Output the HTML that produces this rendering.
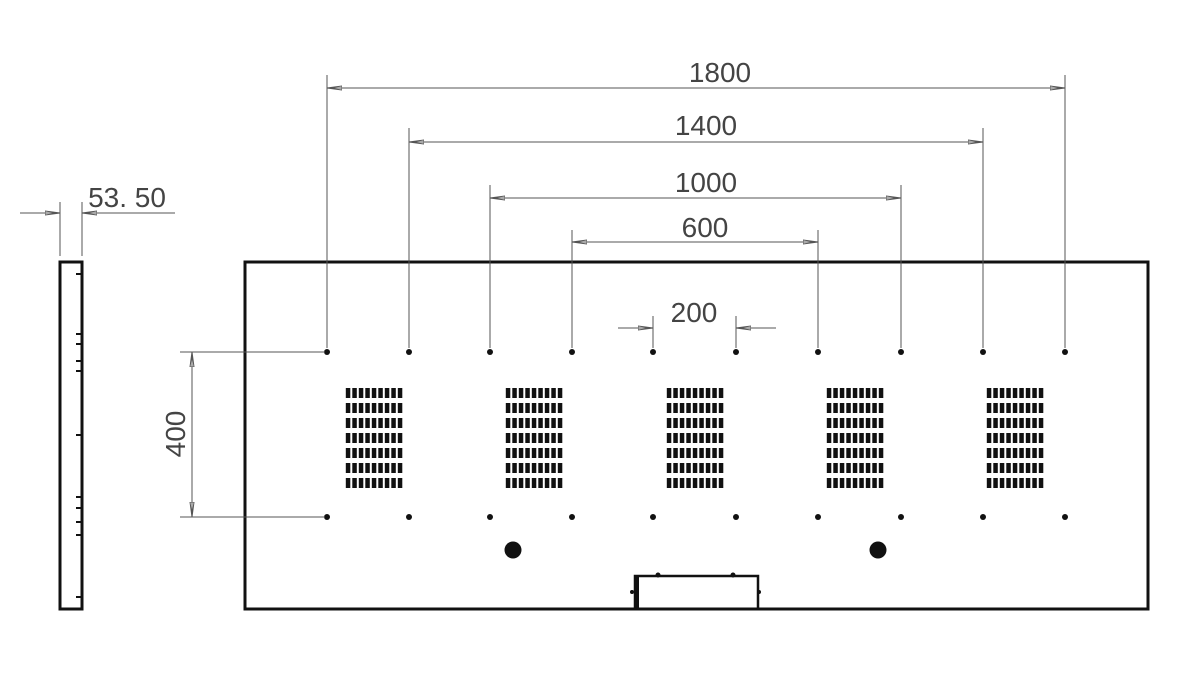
<!DOCTYPE html>
<html><head><meta charset="utf-8"><style>
html,body{margin:0;padding:0;background:#fff;}
svg{display:block;}
text{font-family:"Liberation Sans",sans-serif;fill:#444;}
</style></head><body>
<svg width="1200" height="686" viewBox="0 0 1200 686" xmlns="http://www.w3.org/2000/svg">
<defs>
<pattern id="v1" x="345" y="388" width="6.5" height="15" patternUnits="userSpaceOnUse"><rect x="0.8" y="0" width="4.5" height="10" fill="#111"/></pattern>
<pattern id="v2" x="505" y="388" width="6.5" height="15" patternUnits="userSpaceOnUse"><rect x="0.8" y="0" width="4.5" height="10" fill="#111"/></pattern>
<pattern id="v3" x="666" y="388" width="6.5" height="15" patternUnits="userSpaceOnUse"><rect x="0.8" y="0" width="4.5" height="10" fill="#111"/></pattern>
<pattern id="v4" x="826" y="388" width="6.5" height="15" patternUnits="userSpaceOnUse"><rect x="0.8" y="0" width="4.5" height="10" fill="#111"/></pattern>
<pattern id="v5" x="986" y="388" width="6.5" height="15" patternUnits="userSpaceOnUse"><rect x="0.8" y="0" width="4.5" height="10" fill="#111"/></pattern>
<marker id="ar" markerWidth="16" markerHeight="6" refX="15" refY="3" orient="auto" markerUnits="userSpaceOnUse">
<path d="M0,1 L15,3 L0,5 Z" fill="none" stroke="#555" stroke-width="1"/>
</marker>
</defs>
<rect x="245" y="262" width="903" height="347" fill="none" stroke="#111" stroke-width="3"/>
<rect x="60" y="262" width="22" height="347" fill="none" stroke="#111" stroke-width="3"/>
<g stroke="#111" stroke-width="2">
<line x1="76" y1="274" x2="81" y2="274"/>
<line x1="76" y1="334" x2="81" y2="334"/>
<line x1="76" y1="344" x2="81" y2="344"/>
<line x1="76" y1="361" x2="81" y2="361"/>
<line x1="76" y1="371" x2="81" y2="371"/>
<line x1="76" y1="435" x2="81" y2="435"/>
<line x1="76" y1="497" x2="81" y2="497"/>
<line x1="76" y1="508" x2="81" y2="508"/>
<line x1="76" y1="522" x2="81" y2="522"/>
<line x1="76" y1="535" x2="81" y2="535"/>
<line x1="76" y1="597" x2="81" y2="597"/>
</g>
<rect x="345" y="388" width="58.5" height="100" fill="url(#v1)"/>
<rect x="505" y="388" width="58.5" height="100" fill="url(#v2)"/>
<rect x="666" y="388" width="58.5" height="100" fill="url(#v3)"/>
<rect x="826" y="388" width="58.5" height="100" fill="url(#v4)"/>
<rect x="986" y="388" width="58.5" height="100" fill="url(#v5)"/>
<g fill="#111">
<circle cx="327" cy="352" r="3"/><circle cx="409" cy="352" r="3"/><circle cx="490" cy="352" r="3"/><circle cx="572" cy="352" r="3"/><circle cx="653" cy="352" r="3"/><circle cx="736" cy="352" r="3"/><circle cx="818" cy="352" r="3"/><circle cx="901" cy="352" r="3"/><circle cx="983" cy="352" r="3"/><circle cx="1065" cy="352" r="3"/>
<circle cx="327" cy="517" r="3"/><circle cx="409" cy="517" r="3"/><circle cx="490" cy="517" r="3"/><circle cx="572" cy="517" r="3"/><circle cx="653" cy="517" r="3"/><circle cx="736" cy="517" r="3"/><circle cx="818" cy="517" r="3"/><circle cx="901" cy="517" r="3"/><circle cx="983" cy="517" r="3"/><circle cx="1065" cy="517" r="3"/>
<circle cx="513" cy="550" r="8.5"/><circle cx="878" cy="550" r="8.5"/>
</g>
<path d="M635,609 V576 H758 V609" fill="none" stroke="#111" stroke-width="2.5"/>
<rect x="634" y="576" width="5" height="33" fill="#111"/>
<g fill="#111">
<circle cx="658" cy="575" r="2.5"/><circle cx="733" cy="575" r="2.5"/><circle cx="632" cy="592" r="2"/><circle cx="759" cy="592" r="2"/>
</g>
<g stroke="#555" stroke-width="1" fill="none">
<line x1="327" y1="75" x2="327" y2="348"/><line x1="1065" y1="75" x2="1065" y2="348"/>
<line x1="409" y1="128" x2="409" y2="348"/><line x1="983" y1="128" x2="983" y2="348"/>
<line x1="490" y1="185" x2="490" y2="348"/><line x1="901" y1="185" x2="901" y2="348"/>
<line x1="572" y1="230" x2="572" y2="348"/><line x1="818" y1="230" x2="818" y2="348"/>
<line x1="653" y1="316" x2="653" y2="348"/><line x1="736" y1="316" x2="736" y2="348"/>
<line x1="340" y1="88" x2="1065" y2="88" marker-end="url(#ar)"/><line x1="1050" y1="88" x2="327" y2="88" marker-end="url(#ar)"/>
<line x1="420" y1="142" x2="983" y2="142" marker-end="url(#ar)"/><line x1="970" y1="142" x2="409" y2="142" marker-end="url(#ar)"/>
<line x1="500" y1="198" x2="901" y2="198" marker-end="url(#ar)"/><line x1="890" y1="198" x2="490" y2="198" marker-end="url(#ar)"/>
<line x1="580" y1="242" x2="818" y2="242" marker-end="url(#ar)"/><line x1="810" y1="242" x2="572" y2="242" marker-end="url(#ar)"/>
<line x1="618" y1="328" x2="653" y2="328" marker-end="url(#ar)"/><line x1="776" y1="328" x2="736" y2="328" marker-end="url(#ar)"/>
<line x1="180" y1="352" x2="325" y2="352"/><line x1="180" y1="517" x2="325" y2="517"/>
<line x1="192" y1="365" x2="192" y2="352" marker-end="url(#ar)"/><line x1="192" y1="360" x2="192" y2="517" marker-end="url(#ar)"/>
<line x1="60" y1="202" x2="60" y2="256"/><line x1="82" y1="202" x2="82" y2="256"/>
<line x1="20" y1="213" x2="60" y2="213" marker-end="url(#ar)"/><line x1="175" y1="213" x2="82" y2="213" marker-end="url(#ar)"/>
</g>
<g font-size="28">
<text x="720" y="82" text-anchor="middle">1800</text>
<text x="706" y="135" text-anchor="middle">1400</text>
<text x="706" y="192" text-anchor="middle">1000</text>
<text x="705" y="237" text-anchor="middle">600</text>
<text x="694" y="322" text-anchor="middle">200</text>
<text x="127" y="207" text-anchor="middle">53. 50</text>
<text x="0" y="0" text-anchor="middle" transform="translate(185,434) rotate(-90)">400</text>
</g>
</svg>
</body></html>
